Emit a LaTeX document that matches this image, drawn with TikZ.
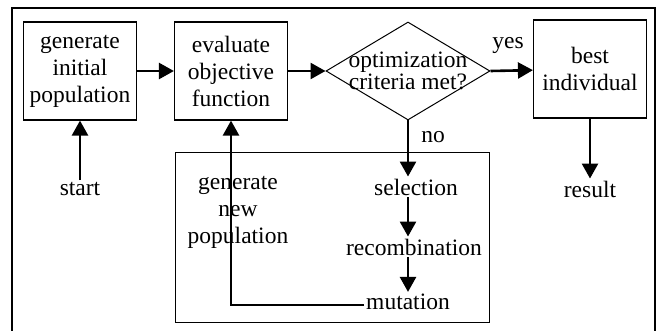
\documentclass[tikz,border=0pt]{standalone}
\usepackage{fontspec}
\setmainfont{Liberation Serif}
\usetikzlibrary{arrows.meta,shapes.geometric}

\begin{document}
\begin{tikzpicture}[x=1pt,y=-1pt,>={Triangle[length=15pt,width=16pt]},
        every node/.style={font=\fontsize{23.5}{27}\selectfont,inner sep=2pt},
        stepbox/.style={draw,line width=1.2pt,minimum width=113pt,
              minimum height=98pt,align=center,inner sep=0pt},
        flow/.style={->,line width=2.6pt}]
        \useasboundingbox (0,0) rectangle (663,331);
        % outer frame, open at the bottom
        \draw[line width=2.4pt] (12,331) -- (12,8) -- (655,8) -- (655,331);
        \node[stepbox] (init) at (80,71) {generate\\initial\\population};
        \node[stepbox] (eval) at (231,71) {evaluate\\objective\\function};
        \node[diamond,draw,line width=1pt,minimum width=164pt,
              minimum height=98pt,inner sep=0pt] (crit) at (408,71) {};
        \node[align=center,font=\fontsize{23.5}{22}\selectfont]
              (crittext) at (crit) {optimization\\criteria met?};
        \node[stepbox] (best) at (590,69) {best\\individual};
        \node (start) at (80,189) {start};
        \node (result) at (590,189) {result};
        \node (yes) at (508,46) {yes};
        \node (no) at (433,137) {no};
        % loop that builds the next population
        \node[draw,line width=0.9pt,minimum width=314pt,
              minimum height=170pt,inner sep=0pt] (newbox) at (332,237) {};
        \node[align=center] (newpop) at (238,212) {generate\\new\\population};
        \node (sel) at (416,187) {selection};
        \node (recomb) at (414,247) {recombination};
        \node (mut) at (408,302) {mutation};
        \draw[flow] (start) -- (init);
        \draw[flow] (init) -- (eval);
        \draw[flow] (eval) -- (crit.west);
        \draw[flow] (crit.east) -- (best);
        \draw[flow] (best) -- (result);
        \draw[flow] (crit.south) -- (crit.south |- sel.north);
        \draw[flow] (crit.south |- sel.south) -- (crit.south |- recomb.north);
        \draw[flow] (crit.south |- recomb.south) -- (crit.south |- mut.north);
        \draw[flow] ([yshift=-3pt]mut.west) -| (eval.south);
      \end{tikzpicture}
\end{document}
